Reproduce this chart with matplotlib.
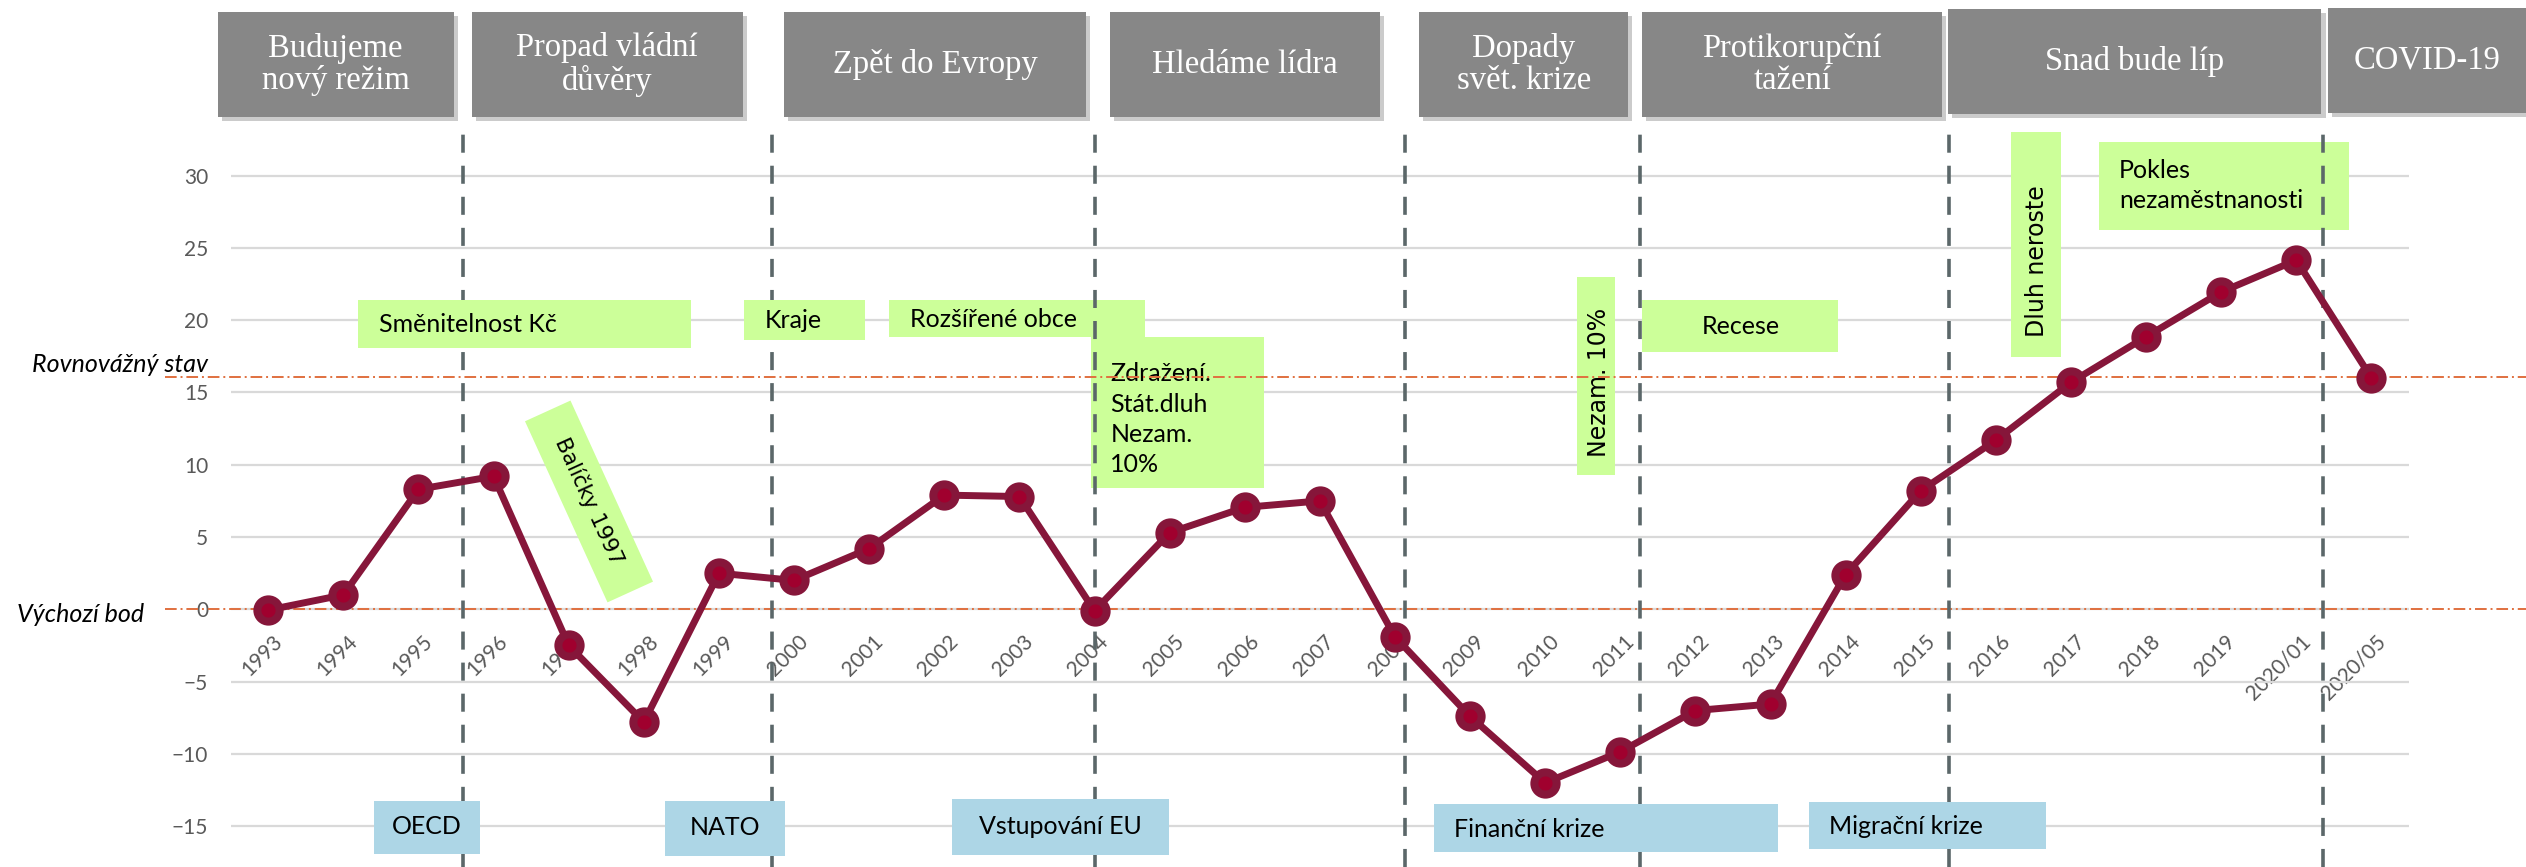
import matplotlib
matplotlib.use('Agg')
import matplotlib.pyplot as plt
import matplotlib.patheffects as pe
from matplotlib.patches import Rectangle
from matplotlib.transforms import Affine2D, ScaledTranslation

# ---- data -----------------------------------------------------------
years = ['1993', '1994', '1995', '1996', '1997', '1998', '1999', '2000',
         '2001', '2002', '2003', '2004', '2005', '2006', '2007', '2008',
         '2009', '2010', '2011', '2012', '2013', '2014', '2015', '2016',
         '2017', '2018', '2019', '2020/01', '2020/05']
index_values = [-0.05, 1.0, 8.3, 9.2, -2.5, -7.8, 2.5, 2.0,
                4.2, 7.9, 7.8, -0.1, 5.3, 7.05, 7.5, -1.9,
                -7.4, -12.0, -9.85, -7.0, -6.55, 2.4, 8.2, 11.7,
                15.7, 18.85, 21.95, 24.15, 16.0]

equilibrium = 16.1
baseline = 0
ref_labels = ['Rovnovážný stav', 'Výchozí bod']

periods = ['Budujeme\nnový režim', 'Propad vládní\ndůvěry', 'Zpět do Evropy',
           'Hledáme lídra', 'Dopady\nsvět. krize', 'Protikorupční\ntažení',
           'Snad bude líp', 'COVID-19']
period_breaks = [2.59, 6.70, 11.0, 15.13, 18.26, 22.38, 27.36]

green_events = ['Směnitelnost Kč', 'Kraje', 'Rozšířené obce',
                'Zdražení.\nStát.dluh\nNezam.\n10%', 'Recese',
                'Pokles\nnezaměstnanosti']
green_vertical = ['Nezam. 10%', 'Dluh neroste']
tilted_event = 'Balíčky 1997'
blue_events = ['OECD', 'NATO', 'Vstupování EU', 'Finanční krize', 'Migrační krize']

# ---- layout (category index, value units) ---------------------------
header_boxes = [(-0.67, 2.467, 41.29, 34.07), (2.71, 6.317, 41.29, 34.07),
                (6.867, 10.888, 41.29, 34.07), (11.208, 14.802, 41.29, 34.07),
                (15.322, 18.105, 41.29, 34.07), (18.291, 22.286, 41.29, 34.07),
                (22.366, 27.333, 41.51, 34.25), (27.426, 30.1, 41.58, 34.32)]
# box x0, x1, y_top, y_bottom, text x, text y, alignment, layer
green_layout = [(1.194, 5.628, 21.39, 18.09, 1.47, 19.7, 'left', 4.5),
                (6.334, 7.945, 21.39, 18.62, 6.61, 19.95, 'left', 4.5),
                (8.265, 11.674, 21.39, 18.85, 8.55, 20.05, 'left', 2),
                (10.952, 13.258, 18.85, 8.39, 11.21, 13.15, 'left', 2),
                (18.289, 20.901, 21.39, 17.81, 19.6, 19.55, 'center', 2),
                (24.377, 27.706, 32.34, 26.23, 24.64, 29.3, 'left', 2)]
vertical_layout = [(17.419, 17.936, 22.98, 9.29, 17.72, 15.7),
                   (23.205, 23.871, 33.03, 17.47, 23.55, 24.1)]
blue_layout = [(1.407, 2.818, -13.24, -16.92, 2.11, -15.0, 'center'),
               (5.282, 6.88, -13.26, -17.04, 6.08, -15.1, 'center'),
               (9.104, 11.994, -13.12, -16.99, 10.55, -15.0, 'center'),
               (15.522, 20.103, -13.47, -16.76, 15.78, -15.2, 'left'),
               (20.515, 23.671, -13.33, -16.58, 20.775, -15.0, 'left')]

GREEN = '#CCFF99'
BLUE = '#ADD6E6'
GRAY_BOX = '#878787'
LINE = '#86163A'
ORANGE = '#E0703F'
TXT = '#595959'
SANS = ['Lato', 'DejaVu Sans']

W, H = 2526, 867
fig = plt.figure(figsize=(W / 100, H / 100), dpi=100)
ax = fig.add_axes([230.7 / W, 0, (2409 - 230.7) / W, 1])
ax.set_xlim(-0.5, len(years) - 0.5)
ax.set_ylim(-17.82, 42.14)

for s in ['top', 'right', 'left']:
    ax.spines[s].set_visible(False)
ax.spines['bottom'].set_position(('data', 0))
ax.spines['bottom'].set_color('none')

ax.set_yticks(range(-15, 31, 5))
ax.yaxis.grid(True, color='#D9D9D9', lw=1.6)
ax.set_axisbelow(True)
ax.tick_params(axis='y', length=0, pad=16.3, labelsize=15, labelcolor=TXT)
for lab in ax.get_yticklabels():
    lab.set_family(SANS)

x = list(range(len(years)))
ax.set_xticks(x)
ax.set_xticklabels(years, rotation=45, ha='right', va='center',
                   rotation_mode='anchor', family=SANS, fontsize=15, color=TXT)
ax.tick_params(axis='x', length=0, pad=20.7)
for lab in ax.get_xticklabels():
    lab.set_transform(lab.get_transform() + ScaledTranslation(0.11, 0, fig.dpi_scale_trans))

# reference levels
ax.hlines([equilibrium, baseline], -1.376, 30.1, colors=ORANGE, lw=1.4,
          linestyles=(0, (6, 2, 1, 2)), clip_on=False, zorder=3)
ax.text(-3.15, 16.41, ref_labels[0], family=SANS, style='italic', fontsize=18,
        ha='left', va='baseline', clip_on=False)
ax.text(-3.35, -0.86, ref_labels[1], family=SANS, style='italic', fontsize=18,
        ha='left', va='baseline', clip_on=False)

# period separators
ax.vlines(period_breaks, -17.82, 33.42, colors='#5B6769', lw=2.6,
          linestyles=(0, (5, 3.6)), zorder=4)

# header boxes
shadow = [pe.SimplePatchShadow(offset=(3, -3), shadow_rgbFace='#999999', alpha=0.5), pe.Normal()]
for name, (x0, x1, yt, yb) in zip(periods, header_boxes):
    r = Rectangle((x0, yb), x1 - x0, yt - yb, fc=GRAY_BOX, ec='none',
                  clip_on=False, zorder=6, path_effects=shadow)
    ax.add_patch(r)
    ax.text((x0 + min(x1, 30.06)) / 2, (yt + yb) / 2, name, color='white',
            family='Liberation Serif', fontsize=23.5, ha='center', va='center',
            linespacing=1.05, zorder=7, clip_on=False)

# green event boxes
for name, (x0, x1, yt, yb, tx, ty, al, z) in zip(green_events, green_layout):
    ax.add_patch(Rectangle((x0, yb), x1 - x0, yt - yb, fc=GREEN, ec='none', zorder=z))
    ax.text(tx, ty, name, family=SANS, fontsize=18, ha=al, va='center',
            linespacing=1.38, zorder=z + 0.1)

for name, (x0, x1, yt, yb, tx, ty) in zip(green_vertical, vertical_layout):
    ax.add_patch(Rectangle((x0, yb), x1 - x0, yt - yb, fc=GREEN, ec='none', zorder=2))
    ax.text(tx, ty, name, family='DejaVu Sans', fontsize=17, rotation=90,
            ha='center', va='center', zorder=3)

tilt = Affine2D().rotate_deg(-65.5) + ScaledTranslation(4.27, 7.46, ax.transData)
ax.add_patch(Rectangle((-99.5, -25), 199, 50, fc=GREEN, ec='none', transform=tilt, zorder=2))
ax.text(4.27, 7.46, tilted_event, family='DejaVu Sans', fontsize=15.5, rotation=-65.5,
        rotation_mode='anchor', ha='center', va='center', zorder=3)

# blue event boxes
for name, (x0, x1, yt, yb, tx, ty, al) in zip(blue_events, blue_layout):
    ax.add_patch(Rectangle((x0, yb), x1 - x0, yt - yb, fc=BLUE, ec='none', zorder=4.5))
    ax.text(tx, ty, name, family=SANS, fontsize=18, ha=al, va='center', zorder=4.6)

# index line
ax.plot(x, index_values, color=LINE, lw=5, marker='o', ms=16, mfc='#A0002E',
        mec=LINE, mew=5.8, zorder=5)

fig.savefig('out.png', dpi=100)
